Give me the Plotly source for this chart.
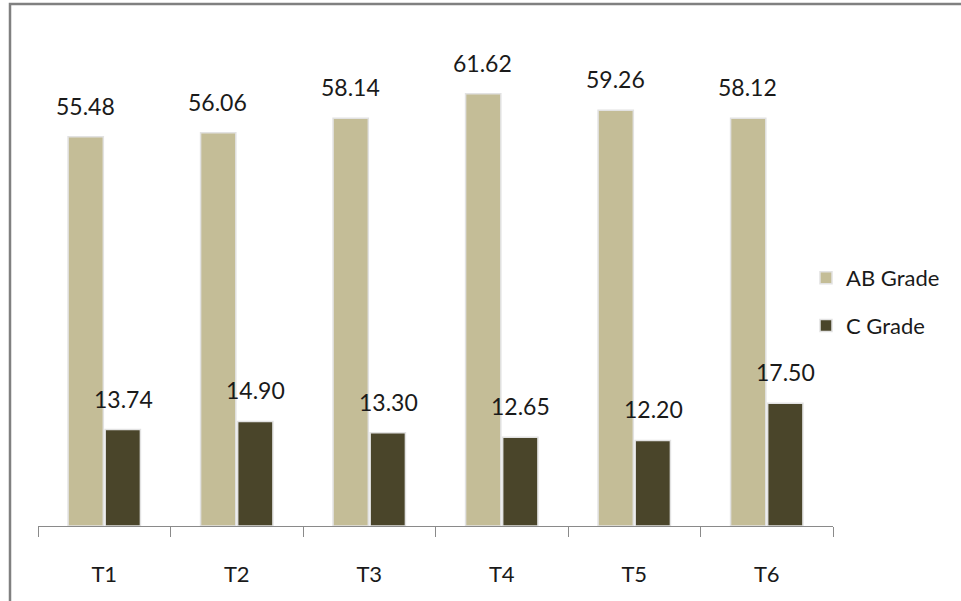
import plotly.graph_objects as go

categories = ["T1", "T2", "T3", "T4", "T5", "T6"]
ab_grade = [55.48, 56.06, 58.14, 61.62, 59.26, 58.12]
c_grade = [13.74, 14.90, 13.30, 12.65, 12.20, 17.50]
series_names = ["AB Grade", "C Grade"]

W, H = 961, 601
L, R, T, B = 38, 128, 35, 75
pw, ph = W - L - R, H - T - B

FONT = "Lato"
fig = go.Figure()
fig.add_trace(go.Bar(x=categories, y=ab_grade, name=series_names[0], legendgroup="a",
                     marker=dict(color="#C4BD97", line=dict(color="#E2E2E2", width=1.5))))
fig.add_trace(go.Bar(x=categories, y=c_grade, name=series_names[1], legendgroup="c",
                     marker=dict(color="#4A452A", line=dict(color="#E2E2E2", width=1.5))))

anns = []
for vals, xs in ((ab_grade, -19), (c_grade, 19)):
    for c, v in zip(categories, vals):
        anns.append(dict(x=c, y=v, xref="x", yref="y", text=f"{v:.2f}", showarrow=False,
                         xshift=xs, yshift=15, yanchor="bottom",
                         font=dict(family=FONT, size=23, color="#1a1a1a")))

def px_x(p):
    return (p - L) / pw

def px_y(p):
    return (H - B - p) / ph

fig.update_layout(
    width=W, height=H,
    margin=dict(l=L, r=R, t=T, b=B, autoexpand=False),
    paper_bgcolor="white", plot_bgcolor="white",
    barmode="group", bargap=0.44, bargroupgap=0.05,
    annotations=anns,
    showlegend=True,
    legend=dict(x=px_x(806), y=px_y(302), xanchor="left", yanchor="middle",
                font=dict(family=FONT, size=22, color="#1a1a1a"),
                tracegroupgap=16, itemwidth=30, bgcolor="rgba(0,0,0,0)"),
    xaxis=dict(showline=True, linecolor="#8a8a8a", linewidth=1.2,
               ticks="outside", tickson="boundaries", ticklen=10, tickcolor="#8a8a8a",
               tickwidth=1.2, ticklabelstandoff=28,
               tickfont=dict(family=FONT, size=22, color="#1a1a1a"),
               showgrid=False, zeroline=False, fixedrange=True),
    yaxis=dict(visible=False, range=[0, 70], showgrid=False, zeroline=False),
    shapes=[dict(type="rect", xref="paper", yref="paper",
                 x0=px_x(10), x1=px_x(975), y0=px_y(4), y1=px_y(615),
                 line=dict(color="#808080", width=2.5), fillcolor="rgba(0,0,0,0)", layer="above")],
)

fig.write_html("out.html", config={"displayModeBar": False},
               post_script="document.body.style.margin='0px';document.body.style.padding='0px';")
